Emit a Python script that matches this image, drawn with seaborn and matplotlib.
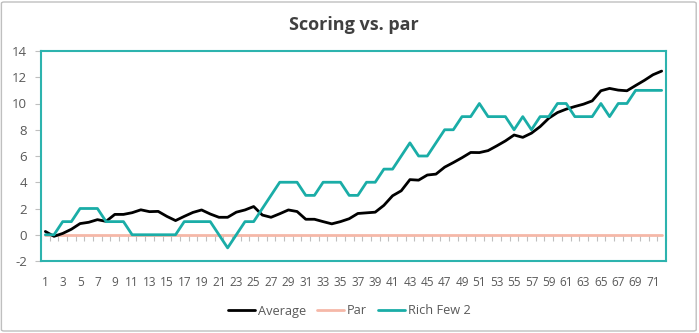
import numpy as np
import pandas as pd
import matplotlib
matplotlib.use("Agg")
import matplotlib.pyplot as plt
import seaborn as sns
from matplotlib.patches import FancyBboxPatch

# Round numbers 1..72
rounds = list(range(1, 73))

average = [0.25, -0.12, 0.10, 0.42, 0.85, 0.95, 1.15, 1.02, 1.55, 1.55,
           1.68, 1.90, 1.76, 1.78, 1.40, 1.08, 1.40, 1.70, 1.89, 1.58,
           1.33, 1.33, 1.72, 1.89, 2.15, 1.50, 1.33, 1.60, 1.89, 1.77,
           1.18, 1.18, 1.00, 0.83, 1.00, 1.22, 1.62, 1.67, 1.72, 2.24,
           2.97, 3.35, 4.20, 4.16, 4.55, 4.62, 5.15, 5.50, 5.87, 6.27,
           6.26, 6.41, 6.77, 7.15, 7.60, 7.42, 7.74, 8.24, 8.88, 9.31,
           9.57, 9.77, 9.95, 10.20, 10.97, 11.15, 11.02, 10.97, 11.37, 11.76,
           12.19, 12.47]

par = [0] * 72

rich_few_2 = [0, 0, 1, 1, 2, 2, 2, 1, 1, 1,
              0, 0, 0, 0, 0, 0, 1, 1, 1, 1,
              0, -1, 0, 1, 1, 2, 3, 4, 4, 4,
              3, 3, 4, 4, 4, 3, 3, 4, 4, 5,
              5, 6, 7, 6, 6, 7, 8, 8, 9, 9,
              10, 9, 9, 9, 8, 9, 8, 9, 9, 10,
              10, 9, 9, 9, 10, 9, 10, 10, 11, 11,
              11, 11]

series_names = ["Average", "Par", "Rich Few 2"]
y_ticks = list(range(-2, 15, 2))
x_tick_labels = list(range(1, 72, 2))

df = pd.DataFrame({
    "Round": rounds * 3,
    "Score": average + par + rich_few_2,
    "Series": [series_names[0]] * 72 + [series_names[1]] * 72 + [series_names[2]] * 72,
})

palette = {"Average": "#000000", "Par": "#F5B8A8", "Rich Few 2": "#1AADA7"}
label_color = "#595959"
font = ["Open Sans", "DejaVu Sans"]

sns.set_theme(style="white")
plt.rcParams["font.family"] = font
plt.rcParams["axes.unicode_minus"] = False

fig = plt.figure(figsize=(6.99, 3.33), dpi=100)
ax = fig.add_axes([41 / 699, 1 - 261 / 333, 625 / 699, 210 / 333])

# Par first so the other lines draw over it
sns.lineplot(data=df, x="Round", y="Score", hue="Series",
             hue_order=["Par", "Average", "Rich Few 2"], palette=palette,
             linewidth=2, ax=ax, legend=False, sort=False)

n = len(rounds)
ax.set_xlim(0.5, n + 0.5)
ax.set_ylim(min(y_ticks), max(y_ticks))
ax.set_yticks(y_ticks)
ax.set_xticks(x_tick_labels)
ax.set_xticklabels([str(v) for v in x_tick_labels])
ax.set_xlabel("")
ax.set_ylabel("")

ax.tick_params(axis="x", length=0, pad=11, labelsize=8.5, labelcolor=label_color)
ax.tick_params(axis="y", length=4, width=0.8, color="#BFBFBF", direction="out",
               pad=6, labelsize=9.5, labelcolor=label_color, left=True)

for side in ["left", "right", "top", "bottom"]:
    ax.spines[side].set_visible(True)
    ax.spines[side].set_color("#2DB3AE")
    ax.spines[side].set_linewidth(1.5)

# Category tick marks along the zero line
zero_frac = (0 - min(y_ticks)) / (max(y_ticks) - min(y_ticks))
cat_axis = ax.secondary_xaxis(zero_frac)
cat_axis.set_xticks(np.arange(0.5, n + 1, 1.0))
cat_axis.tick_params(axis="x", direction="out", length=4, width=0.8,
                     color="#BFBFBF", labelbottom=False, labeltop=False,
                     bottom=True, top=False)
cat_axis.spines["bottom"].set_visible(False)
cat_axis.spines["top"].set_visible(False)

ax.set_title("Scoring vs. par", fontsize=13, fontweight="bold",
             color="#404040", pad=15)

handles = [plt.Line2D([], [], color=palette[s], linewidth=2) for s in series_names]
fig.legend(handles, series_names, loc="center", bbox_to_anchor=(0.5, 1 - 311 / 333),
           ncol=3, frameon=False, handlelength=2.1, handletextpad=0.2,
           columnspacing=0.9, prop={"family": font, "size": 9.2},
           labelcolor=label_color)

# Chart frame
frame = FancyBboxPatch((0.002, 0.006), 0.994, 0.988, boxstyle="round,pad=0,rounding_size=0.004",
                       transform=fig.transFigure, fill=False, edgecolor="#BFBFBF", linewidth=1)
fig.patches.append(frame)

fig.savefig("out.png", dpi=100, facecolor="white")
